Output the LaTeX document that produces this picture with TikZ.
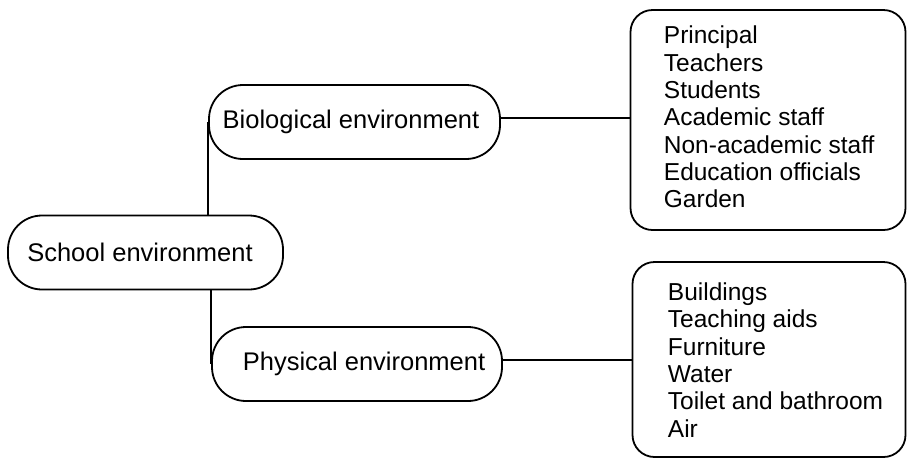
\documentclass[tikz,border=0pt]{standalone}
\usepackage{fontspec}
\setmainfont{Liberation Sans}
\begin{document}
\begin{tikzpicture}[x=1pt,y=-1pt,line width=1.8pt,
  pill/.style={draw,rounded corners=34pt,minimum height=74pt,inner sep=0pt,
    font=\fontsize{25.5}{28}\selectfont},
  listbox/.style={draw,rounded corners=22pt,inner sep=0pt},
  listtext/.style={anchor=west,inner sep=0pt,align=left,
    font=\fontsize{24.5}{27.3}\selectfont},
  link/.style={line width=1.8pt}]
\useasboundingbox (0,0) rectangle (907,459);
\node[pill,minimum width=275pt] (school) at (145.5,252.5) {\hspace*{-11pt}School environment};
\node[pill,minimum width=291pt] (bio) at (354.5,122) {\hspace*{-7pt}Biological environment};
\node[pill,minimum width=290pt] (phys) at (357,364) {\hspace*{14pt}Physical environment};
\node[listbox,minimum width=275pt,minimum height=220pt] (bl) at (768,120) {};
\node[listbox,minimum width=273pt,minimum height=195pt] (pl) at (769,359.5) {};
\node[listtext] (blt) at (663,117)
  {Principal\\Teachers\\Students\\Academic staff\\Non-academic staff\\Education officials\\Garden};
\node[listtext] (plt) at (667,360)
  {Buildings\\Teaching aids\\Furniture\\Water\\Toilet and bathroom\\Air};
\draw[link] (school.north -| bio.west) -- (bio.west);
\draw[link] (school.south -| phys.west) -- (phys.west);
\draw[link] (bio.east |- 0,118) -- (bl.west |- 0,118);
\draw[link] (phys.east |- 0,360) -- (pl.west |- 0,360);
\end{tikzpicture}
\end{document}
